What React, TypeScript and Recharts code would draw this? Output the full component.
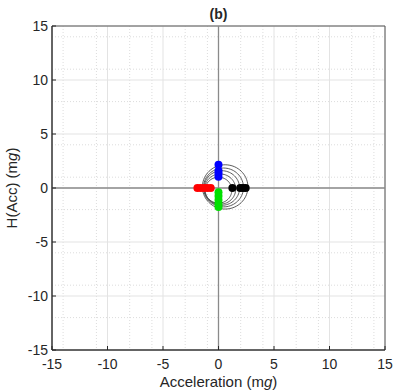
import React from 'react'
import {
    ScatterChart, Scatter, XAxis, YAxis, CartesianGrid, ReferenceLine, ReferenceArea
} from 'recharts'

// axis ticks
const majorTicks = [-15, -10, -5, 0, 5, 10, 15]
const minorTicks = [-14, -13, -12, -11, -9, -8, -7, -6, -4, -3, -2, -1, 1, 2, 3, 4, 6, 7, 8, 9, 11, 12, 13, 14]

// measured points
const bluePts = [
    { x: 0, y: 2.15 }, { x: 0, y: 1.6 }, { x: 0, y: 1.35 }, { x: 0, y: 1.05 }
]
const redPts = [
    { x: -1.9, y: 0 }, { x: -1.6, y: 0 }, { x: -1.3, y: 0 }, { x: -1.0, y: 0 }, { x: -0.7, y: 0 }
]
const greenPts = [
    { x: 0, y: -0.4 }, { x: 0, y: -0.75 }, { x: 0, y: -1.1 }, { x: 0, y: -1.45 }, { x: 0, y: -1.75 }
]
const blackPts = [
    { x: 1.25, y: 0 }, { x: 1.95, y: 0 }, { x: 2.2, y: 0 }, { x: 2.45, y: 0 }
]

// fitted circles: center x, center y, radius
const circleCx = [0.0, 0.15, 0.3, 0.45, 0.6]
const circleCy = [-0.2, -0.1, 0.0, 0.05, 0.1]
const circleR = [1.2, 1.4, 1.6, 1.8, 2.05]

const circles = circleR.map((r, i) => {
    const pts = []
    for (let k = 0; k <= 72; k++) {
        const a = (k / 72) * Math.PI * 2
        pts.push({ x: circleCx[i] + r * Math.cos(a), y: circleCy[i] + r * Math.sin(a) })
    }
    return pts
})

const FONT = '"Liberation Sans", Arial, sans-serif'
const TXT = '#262626'

const dot = (color: string) => (props: any) => (
    <circle cx={props.cx} cy={props.cy} r={4} fill={color} />
)

export default function App() {
    return (
        <div style={{ position: 'absolute', left: 0, top: 0, width: 394, height: 391, background: '#fff', fontFamily: FONT }}>
            <ScatterChart width={394} height={391} margin={{ top: 26, right: 9, bottom: 0, left: 0 }}>
                <CartesianGrid
                    verticalValues={minorTicks}
                    horizontalValues={minorTicks}
                    stroke="#dcdcdc"
                    strokeDasharray="1 2"
                />
                <CartesianGrid
                    verticalValues={majorTicks}
                    horizontalValues={majorTicks}
                    stroke="#e3e3e3"
                />
                <XAxis
                    type="number"
                    dataKey="x"
                    domain={[-15, 15]}
                    ticks={majorTicks}
                    height={41}
                    allowDataOverflow
                    tickSize={-4}
                    tickMargin={13}
                    stroke="#262626"
                    tick={{ fill: TXT, fontSize: 14, fontFamily: FONT }}
                />
                <YAxis
                    type="number"
                    dataKey="y"
                    domain={[-15, 15]}
                    ticks={majorTicks}
                    width={52}
                    allowDataOverflow
                    tickSize={-4}
                    tickMargin={8}
                    stroke="#262626"
                    tick={{ fill: TXT, fontSize: 14, fontFamily: FONT }}
                />
                <ReferenceLine x={0} stroke="#8a8a8a" strokeWidth={1.3} />
                <ReferenceLine y={0} stroke="#8a8a8a" strokeWidth={1.3} />
                <ReferenceArea x1={-15} x2={15} y1={-15} y2={15} fill="none" stroke="#555" strokeWidth={1} fillOpacity={0} />
                {circles.map((c, i) => (
                    <Scatter
                        key={'c' + i}
                        data={c}
                        line={{ stroke: '#4a4a4a', strokeWidth: 0.9 }}
                        lineType="joint"
                        shape={() => null}
                        isAnimationActive={false}
                    />
                ))}
                <Scatter data={blackPts} shape={dot('#000000')} isAnimationActive={false} />
                <Scatter data={redPts} shape={dot('#ff0000')} isAnimationActive={false} />
                <Scatter data={greenPts} shape={dot('#00e000')} isAnimationActive={false} />
                <Scatter data={bluePts} shape={dot('#0000ff')} isAnimationActive={false} />
                <text x={218.5} y={19} textAnchor="middle" fontFamily={FONT} fontSize={14} fontWeight="bold" fill={TXT}>(b)</text>
                <text x={218.5} y={387} textAnchor="middle" fontFamily={FONT} fontSize={15} fill={TXT}>
                    Acceleration (m<tspan fontStyle="italic">g</tspan>)
                </text>
                <text x={17} y={188} transform="rotate(-90 17 188)" textAnchor="middle" fontFamily={FONT} fontSize={15} fill={TXT}>
                    H(Acc) (m<tspan fontStyle="italic">g</tspan>)
                </text>
            </ScatterChart>
        </div>
    )
}
